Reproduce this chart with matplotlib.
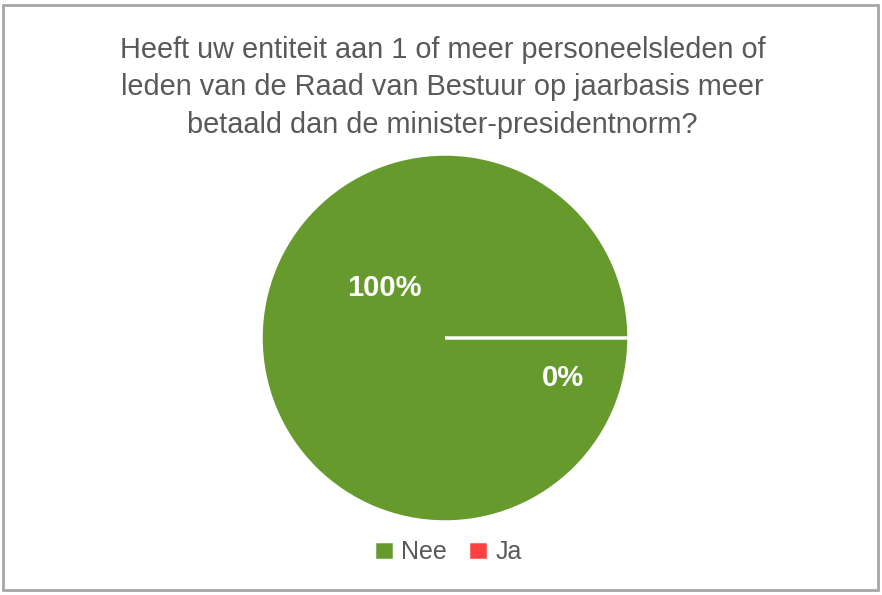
import matplotlib as mpl
mpl.use('Agg')
import matplotlib.pyplot as plt
from matplotlib.patches import Rectangle

mpl.rcParams['font.family'] = ['Liberation Sans', 'DejaVu Sans']

# data
labels = ['Nee', 'Ja']
values = [100, 0]
pct_labels = ['100%', '0%']
colors = ['#669a2d', '#ff4040']
title = ('Heeft uw entiteit aan 1 of meer personeelsleden of\n'
         'leden van de Raad van Bestuur op jaarbasis meer\n'
         'betaald dan de minister-presidentnorm?')

fig = plt.figure(figsize=(8.82, 5.95), dpi=100)
fig.patches.append(Rectangle((0.003, 0.008), 0.992, 0.984, transform=fig.transFigure,
                             fill=False, edgecolor='#a6a6a6', linewidth=2))

fig.text(0.502, 0.853, title, ha='center', va='center', fontsize=20.8,
         color='#595959', linespacing=1.45)

# pie axes: center (445, 338) px, radius 184 px
ax = fig.add_axes([(445 - 184) / 882, (595 - 338 - 184) / 595, 368 / 882, 368 / 595])
wedges, _ = ax.pie(values, colors=colors, startangle=0, counterclock=False,
                   wedgeprops=dict(edgecolor='white', linewidth=2.5))
ax.set_xlim(-1, 1)
ax.set_ylim(-1, 1)
ax.set_aspect('equal')

# data labels
ax.text(-0.33, 0.27, pct_labels[0], ha='center', va='center', color='white',
        fontsize=21, fontweight='bold')
ax.text(0.64, -0.22, pct_labels[1], ha='center', va='center', color='white',
        fontsize=21, fontweight='bold')

leg = fig.legend(wedges, labels, loc='center', bbox_to_anchor=(0.508, 0.072), ncol=2,
                 frameon=False, fontsize=18, handlelength=0.78, handleheight=0.78,
                 handletextpad=0.3, columnspacing=0.85)
for t in leg.get_texts():
    t.set_color('#595959')

fig.savefig('out.png', dpi=100)
